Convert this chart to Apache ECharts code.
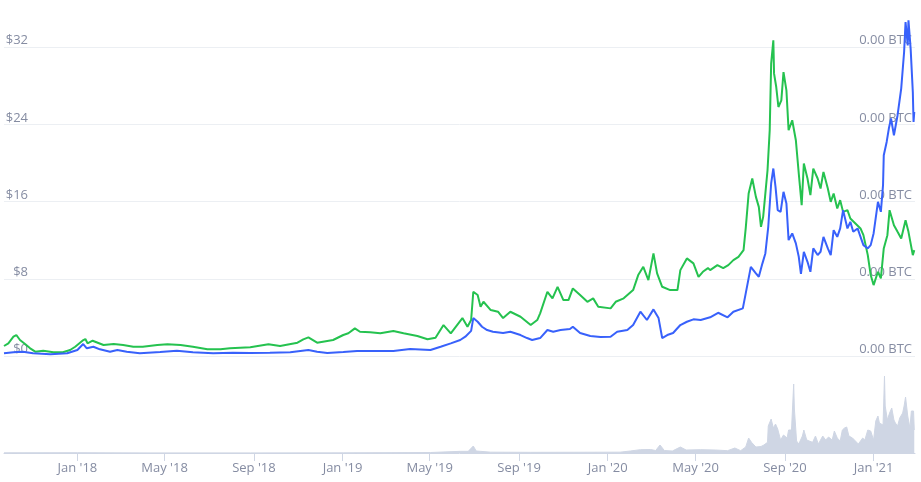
<!DOCTYPE html>
<html>
<head>
<meta charset="utf-8">
<script src="https://cdn.jsdelivr.net/npm/echarts@6/dist/echarts.min.js"></script>
<style>
html,body{margin:0;padding:0;background:#fff;}
#chart{width:921px;height:482px;}
</style>
</head>
<body>
<div id="chart"></div>
<script>
// ---- Data ----
const usdDates = ['2017-09-22','2017-10-05','2017-10-18','2017-11-01','2017-11-25','2017-12-18','2018-01-01','2018-01-09','2018-01-14','2018-01-23','2018-02-01','2018-02-15','2018-02-25','2018-03-10','2018-03-28','2018-04-25','2018-05-18','2018-06-09','2018-07-07','2018-08-03','2018-08-27','2018-09-23','2018-10-21','2018-11-15','2018-11-27','2018-12-11','2019-01-02','2019-01-21','2019-02-15','2019-03-12','2019-04-04','2019-05-02','2019-05-16','2019-05-30','2019-06-12','2019-06-19','2019-06-27','2019-06-30','2019-07-06','2019-07-12','2019-07-19','2019-07-27','2019-08-10','2019-08-20','2019-09-03','2019-09-12','2019-09-19','2019-09-30','2019-10-10','2019-10-18','2019-10-28','2019-11-10','2019-11-14','2019-11-24','2019-12-08','2019-12-22','2020-01-05','2020-01-14','2020-01-28','2020-02-05','2020-02-15','2020-02-24','2020-03-04','2020-03-11','2020-03-16','2020-03-23','2020-03-31','2020-04-10','2020-04-19','2020-04-28','2020-05-08','2020-05-21','2020-06-01','2020-06-14','2020-06-22','2020-07-05','2020-07-09','2020-07-16','2020-07-23','2020-07-27','2020-08-01','2020-08-05','2020-08-09','2020-08-13','2020-08-16','2020-08-19','2020-08-22','2020-08-26','2020-08-30','2020-09-03','2020-09-06','2020-09-11','2020-09-16','2020-09-20','2020-09-23','2020-09-27','2020-10-02','2020-10-06','2020-10-10','2020-10-16','2020-10-20','2020-10-24','2020-10-30','2020-11-03','2020-11-07','2020-11-12','2020-11-16','2020-11-20','2020-11-26','2020-11-30','2020-12-04','2020-12-10','2020-12-14','2020-12-18','2020-12-24','2020-12-28','2021-01-01','2021-01-07','2021-01-11','2021-01-14','2021-01-15','2021-01-19','2021-01-22','2021-01-25','2021-01-29','2021-02-03','2021-02-08','2021-02-12','2021-02-14','2021-02-17','2021-02-18','2021-02-21','2021-02-24','2021-02-25','2021-02-26'];
const usdValues = [0.28,0.38,0.45,0.28,0.18,0.28,0.62,1.24,0.80,0.96,0.69,0.45,0.62,0.45,0.28,0.41,0.55,0.38,0.28,0.34,0.31,0.34,0.38,0.62,0.45,0.31,0.41,0.52,0.52,0.52,0.72,0.62,0.96,1.31,1.66,2.00,2.60,3.93,3.55,3.03,2.69,2.52,2.38,2.52,2.17,1.86,1.66,1.86,2.69,2.52,2.69,2.80,3.03,2.38,2.07,1.97,2.00,2.52,2.69,3.21,4.59,3.73,4.83,3.93,1.86,2.17,2.38,3.21,3.55,3.80,3.73,4.01,4.48,4.01,4.59,4.94,6.49,9.24,8.56,8.21,9.60,10.63,13.39,17.88,19.43,17.53,15.11,14.94,17.01,15.81,12.01,12.70,11.67,10.28,8.50,10.80,9.76,8.73,11.15,10.46,10.80,12.35,11.15,10.46,13.04,12.35,13.22,15.11,13.22,13.90,12.87,13.22,12.35,11.49,11.15,11.49,12.70,15.97,14.94,17.70,20.81,22.18,23.57,24.61,22.88,24.95,27.71,31.50,34.61,32.19,34.78,31.85,27.36,24.25,25.29];

const btcDates = ['2017-09-22','2017-09-28','2017-10-05','2017-10-09','2017-10-14','2017-10-21','2017-10-28','2017-11-04','2017-11-15','2017-11-29','2017-12-12','2017-12-22','2017-12-29','2018-01-08','2018-01-12','2018-01-15','2018-01-22','2018-01-29','2018-02-06','2018-02-20','2018-03-05','2018-03-19','2018-04-01','2018-04-21','2018-05-05','2018-05-23','2018-06-09','2018-06-29','2018-07-17','2018-07-30','2018-08-27','2018-09-21','2018-10-07','2018-10-31','2018-11-08','2018-11-15','2018-11-27','2018-12-05','2018-12-19','2019-01-02','2019-01-09','2019-01-18','2019-01-25','2019-02-08','2019-02-22','2019-03-12','2019-03-26','2019-04-14','2019-04-28','2019-05-09','2019-05-20','2019-05-30','2019-06-15','2019-06-22','2019-06-27','2019-06-30','2019-07-06','2019-07-10','2019-07-14','2019-07-24','2019-08-03','2019-08-10','2019-08-20','2019-09-03','2019-09-17','2019-09-26','2019-09-30','2019-10-10','2019-10-17','2019-10-24','2019-11-01','2019-11-08','2019-11-14','2019-11-24','2019-12-04','2019-12-12','2019-12-19','2020-01-05','2020-01-12','2020-01-23','2020-02-05','2020-02-12','2020-02-19','2020-02-26','2020-03-04','2020-03-09','2020-03-16','2020-03-27','2020-04-06','2020-04-10','2020-04-19','2020-04-28','2020-05-05','2020-05-11','2020-05-18','2020-05-21','2020-05-31','2020-06-08','2020-06-15','2020-06-22','2020-06-29','2020-07-06','2020-07-09','2020-07-13','2020-07-18','2020-07-23','2020-07-27','2020-07-30','2020-08-02','2020-08-08','2020-08-11','2020-08-13','2020-08-16','2020-08-17','2020-08-20','2020-08-23','2020-08-27','2020-08-30','2020-09-03','2020-09-06','2020-09-11','2020-09-16','2020-09-20','2020-09-24','2020-09-27','2020-10-02','2020-10-06','2020-10-10','2020-10-16','2020-10-20','2020-10-24','2020-10-30','2020-11-03','2020-11-07','2020-11-12','2020-11-16','2020-11-20','2020-11-26','2020-11-30','2020-12-07','2020-12-14','2020-12-18','2020-12-24','2020-12-28','2021-01-01','2021-01-07','2021-01-11','2021-01-15','2021-01-20','2021-01-23','2021-01-29','2021-02-03','2021-02-08','2021-02-14','2021-02-18','2021-02-24','2021-02-26'];
const btcValues = [0.0000518,0.0000657,0.0000999,0.0001087,0.0000828,0.0000621,0.0000398,0.0000223,0.0000274,0.0000191,0.0000191,0.0000311,0.0000481,0.0000792,0.0000880,0.0000657,0.0000792,0.0000688,0.0000569,0.0000621,0.0000569,0.0000481,0.0000481,0.0000569,0.0000605,0.0000569,0.0000481,0.0000347,0.0000347,0.0000398,0.0000450,0.0000605,0.0000518,0.0000688,0.0000864,0.0000968,0.0000688,0.0000740,0.0000828,0.0001087,0.0001175,0.0001433,0.0001258,0.0001226,0.0001175,0.0001294,0.0001175,0.0001035,0.0000864,0.0000947,0.0001604,0.0001175,0.0001967,0.0001516,0.0001863,0.0003328,0.0003157,0.0002551,0.0002810,0.0002380,0.0002293,0.0001967,0.0002293,0.0002034,0.0001604,0.0001863,0.0002210,0.0003328,0.0002986,0.0003586,0.0002898,0.0002898,0.0003503,0.0003157,0.0002810,0.0002986,0.0002551,0.0002468,0.0002810,0.0002986,0.0003416,0.0004192,0.0004621,0.0003933,0.0005315,0.0004280,0.0003586,0.0003416,0.0003416,0.0004450,0.0005056,0.0004797,0.0004104,0.0004363,0.0004554,0.0004450,0.0004709,0.0004554,0.0004709,0.0004968,0.0005139,0.0005486,0.0006624,0.0008420,0.0009196,0.0008244,0.0007726,0.0006691,0.0007209,0.0009626,0.0011696,0.0015147,0.0016353,0.0014630,0.0013936,0.0012901,0.0013248,0.0014713,0.0013766,0.0011696,0.0012213,0.0011178,0.0009455,0.0007814,0.0009972,0.0009196,0.0008332,0.0009713,0.0009196,0.0008678,0.0009538,0.0008678,0.0007985,0.0008420,0.0007643,0.0008073,0.0007468,0.0007556,0.0007126,0.0006867,0.0006608,0.0006262,0.0005227,0.0004192,0.0003674,0.0004363,0.0004021,0.0005574,0.0006262,0.0007556,0.0006779,0.0006433,0.0006091,0.0007038,0.0006433,0.0005227,0.0005486];

// volume in million USD
const volDates = ['2017-09-22','2018-01-01','2018-04-11','2018-08-27','2019-01-02','2019-05-02','2019-06-12','2019-06-23','2019-06-30','2019-07-04','2019-07-10','2019-07-24','2019-09-17','2019-11-24','2020-01-18','2020-02-01','2020-02-15','2020-02-29','2020-03-07','2020-03-13','2020-03-19','2020-03-30','2020-04-10','2020-04-18','2020-05-08','2020-05-28','2020-06-14','2020-06-24','2020-07-02','2020-07-09','2020-07-13','2020-07-17','2020-07-23','2020-07-30','2020-08-03','2020-08-08','2020-08-09','2020-08-13','2020-08-16','2020-08-19','2020-08-22','2020-08-26','2020-08-30','2020-09-04','2020-09-06','2020-09-10','2020-09-13','2020-09-14','2020-09-17','2020-09-20','2020-09-25','2020-09-27','2020-10-01','2020-10-03','2020-10-09','2020-10-13','2020-10-17','2020-10-23','2020-10-27','2020-10-31','2020-11-05','2020-11-08','2020-11-12','2020-11-16','2020-11-19','2020-11-22','2020-11-25','2020-11-28','2020-12-03','2020-12-07','2020-12-11','2020-12-17','2020-12-20','2020-12-24','2020-12-28','2021-01-01','2021-01-04','2021-01-07','2021-01-09','2021-01-14','2021-01-16','2021-01-17','2021-01-20','2021-01-23','2021-01-26','2021-01-29','2021-01-31','2021-02-03','2021-02-06','2021-02-10','2021-02-12','2021-02-14','2021-02-17','2021-02-20','2021-02-22','2021-02-25','2021-02-26'];
const volValues = [12,18,6,6,10,30,100,100,420,120,100,50,40,45,50,120,200,210,150,480,150,120,360,180,200,180,140,300,140,360,900,640,360,390,480,640,1620,2040,1500,1740,1440,780,1080,900,1380,1380,4140,2640,720,540,1020,1380,780,900,640,1020,540,1020,780,960,780,1320,900,720,1380,1500,1560,1020,900,720,540,900,780,1380,1320,780,1920,2220,1800,1680,4620,2820,1980,2400,2700,1980,1800,1620,2100,2400,2820,3360,2220,1500,2520,2520,1380];

const xTickDates = ['2018-01-01','2018-05-01','2018-09-01','2019-01-01','2019-05-01','2019-09-01','2020-01-01','2020-05-01','2020-09-01','2021-01-01'];
const xTickLabels = ["Jan '18","May '18","Sep '18","Jan '19","May '19","Sep '19","Jan '20","May '20","Sep '20","Jan '21"];
const xStart = '2017-09-22';
const xEnd = '2021-02-27';

// ---- Chart ----
const parseT = (s) => { const p = s.split('-').map(Number); return Date.UTC(p[0], p[1] - 1, p[2]); };
const tickTimes = xTickDates.map(parseT);
const FONT = 'Open Sans';
const LABEL = '#858ca2';

const chart = echarts.init(document.getElementById('chart'), null, {renderer: 'canvas'});
chart.setOption({
  animation: false,
  backgroundColor: '#fff',
  grid: [
    {left: 4, right: 6, top: -30, bottom: 126, containLabel: false, outerBoundsMode: 'none'},
    {left: 4, right: 6, top: 373, bottom: 29, containLabel: false, outerBoundsMode: 'none'}
  ],
  xAxis: [
    {type: 'value', gridIndex: 0, min: parseT(xStart), max: parseT(xEnd), show: false, splitLine: {show: false}},
    {
      type: 'value', gridIndex: 1, min: parseT(xStart), max: parseT(xEnd),
      axisLine: {show: true, lineStyle: {color: '#cfd6e4', width: 1}},
      axisTick: {show: true, customValues: tickTimes, length: 8, lineStyle: {color: '#cfd6e4'}},
      axisLabel: {
        customValues: tickTimes, margin: 9, color: LABEL, fontSize: 13, fontFamily: FONT,
        formatter: function (v) {
          let best = 0;
          for (let i = 1; i < tickTimes.length; i++) {
            if (Math.abs(tickTimes[i] - v) < Math.abs(tickTimes[best] - v)) best = i;
          }
          return xTickLabels[best];
        }
      },
      splitLine: {show: false}
    }
  ],
  yAxis: [
    {
      type: 'value', gridIndex: 0, position: 'left', min: 0, max: 40, interval: 8,
      axisLine: {show: false}, axisTick: {show: false},
      axisLabel: {margin: -24, verticalAlign: 'bottom', color: LABEL, fontSize: 13, fontFamily: FONT,
        formatter: function (v) { return '$' + v; }},
      splitLine: {show: true, lineStyle: {color: '#eceff3', width: 1}}
    },
    {
      type: 'value', gridIndex: 0, position: 'right', min: 0, max: 0.002, interval: 0.0004,
      axisLine: {show: false}, axisTick: {show: false},
      axisLabel: {margin: -3, align: 'right', verticalAlign: 'bottom', color: LABEL, fontSize: 13, fontFamily: FONT,
        formatter: function (v) { return v.toFixed(2) + ' BTC'; }},
      splitLine: {show: false}
    },
    {type: 'value', gridIndex: 1, min: 0, max: 4800, show: false, splitLine: {show: false}}
  ],
  series: [
    {
      name: 'Volume', type: 'line', xAxisIndex: 1, yAxisIndex: 2,
      data: volDates.map((d, i) => [parseT(d), volValues[i]]),
      showSymbol: false, symbol: 'none',
      lineStyle: {color: '#cfd6e4', width: 1},
      areaStyle: {color: '#cfd6e4', opacity: 1}
    },
    {
      name: 'Price (BTC)', type: 'line', xAxisIndex: 0, yAxisIndex: 1, z: 3,
      data: btcDates.map((d, i) => [parseT(d), btcValues[i]]),
      showSymbol: false, symbol: 'none',
      lineStyle: {color: '#25c24f', width: 2}
    },
    {
      name: 'Price (USD)', type: 'line', xAxisIndex: 0, yAxisIndex: 0, z: 4,
      data: usdDates.map((d, i) => [parseT(d), usdValues[i]]),
      showSymbol: false, symbol: 'none',
      lineStyle: {color: '#3861fb', width: 2}
    }
  ]
});
</script>
</body>
</html>
